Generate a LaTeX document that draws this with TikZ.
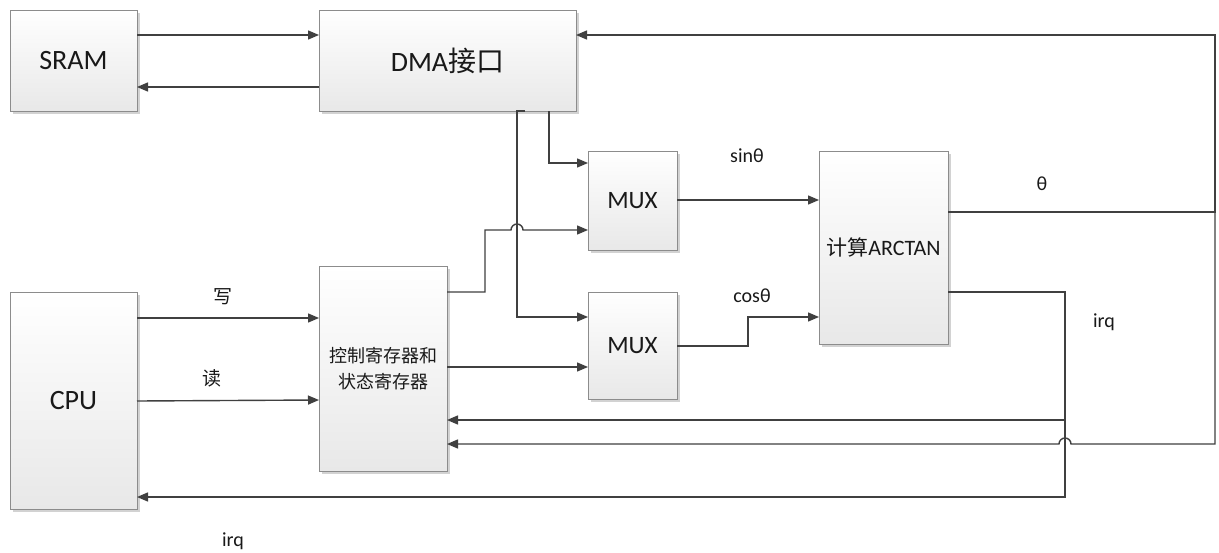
\documentclass[tikz,border=0pt]{standalone}
\usepackage{fontspec}
\setmainfont{Carlito}
\newfontfamily\cjk{Noto Sans CJK SC}
\usetikzlibrary{arrows.meta,shadows}
\begin{document}
\begin{tikzpicture}[x=1pt,y=-1pt,
  box/.style={draw=black!45, line width=0.8pt, top color=white, bottom color=black!9,
    drop shadow={shadow xshift=2.5pt,shadow yshift=-2.5pt,fill=black!35,opacity=0.5},
    inner sep=0pt, outer sep=0pt, anchor=north west, align=center, text=black!90},
  ln/.style={draw=black!75, line width=1.4pt},
  arr/.style={ln, -{Triangle[length=11pt,width=9pt]}},
  lbl/.style={font=\fontsize{20}{24}\selectfont, text=black!90},
  clbl/.style={font=\cjk\fontsize{19}{24}\selectfont, text=black!90},
  big/.style={font=\fontsize{28}{32}\selectfont}]
\useasboundingbox (0,0) rectangle (1219,552);
\fill[white] (0,0) rectangle (1219,552);

\node[box,big,minimum width=127pt,minimum height=101pt] (sram) at (10,10) {SRAM};
\node[box,big,minimum width=257pt,minimum height=101pt] (dma) at (319,10) {DMA{\cjk 接口}};
\node[box,font=\fontsize{25}{30}\selectfont,minimum width=89pt,minimum height=99pt] (mux1) at (588,151) {MUX};
\node[box,font=\fontsize{25}{30}\selectfont,minimum width=89pt,minimum height=107pt] (mux2) at (588,292) {MUX};
\node[box,font=\fontsize{22}{26}\selectfont,minimum width=129pt,minimum height=193pt] (atan) at (819,151) {{\cjk\fontsize{21}{26}\selectfont 计算}ARCTAN};
\node[box,big,minimum width=127pt,minimum height=217pt] (cpu) at (10,292) {CPU};
\node[box,font=\cjk\fontsize{18}{26}\selectfont,minimum width=128pt,minimum height=205pt] (ctrl) at (319,266) {控制寄存器和\\状态寄存器};

% SRAM <-> DMA
\draw[arr] (sram.east |- 0,35) -- (dma.west |- 0,35);
\draw[arr] (dma.west |- 0,87) -- (sram.east |- 0,87);

% DMA -> MUX
\draw[arr] (dma.south -| 525,0) -- (dma.south -| 517,0) |- (mux2.west |- 0,317);
\draw[arr] (dma.south -| 549,0) |- (mux1.west |- 0,163);

% ctrl -> MUX
\draw[arr] (ctrl.east |- 0,292) -- (485,292) -- (485,230) -- (511,230)
  arc[start angle=180,end angle=360,radius=6] -- (mux1.west |- 0,230);
\draw[arr] (ctrl.east |- 0,367) -- (mux2.west |- 0,367);

% MUX -> ARCTAN
\draw[arr] (mux1.east |- 0,200) -- (atan.west |- 0,200);
\draw[arr] (mux2.east |- 0,346) -- (748,346) -- (748,317) -- (atan.west |- 0,317);

% theta outputs
\coordinate (tr) at (1215,212);
\draw[arr] (atan.east |- tr) -- (tr) -- (1215,35) -- (dma.east |- 0,35);
\draw[arr] (tr) -- (1215,444) -- (1071,444)
  arc[start angle=0,end angle=-180,radius=6] -- (ctrl.east |- 0,444);

% irq
\coordinate (ir) at (1065,292);
\coordinate (ib) at (1065,420);
\draw[arr] (atan.east |- ir) -- (ir) -- (1065,497) -- (cpu.east |- 0,497);
\draw[arr] (ib) -- (ctrl.east |- ib);

% CPU -> ctrl
\draw[arr] (cpu.east |- 0,318) -- (ctrl.west |- 0,318);
\draw[arr] (cpu.east |- 0,401) -- (ctrl.west |- 0,400);

% labels
\node[lbl] (l1) at (747,156) {sinθ};
\node[lbl] (l2) at (752,296) {cosθ};
\node[lbl] (l3) at (1042,184) {θ};
\node[lbl] (l4) at (1104,322) {irq};
\node[lbl] (l5) at (233,541) {irq};
\node[clbl] (l6) at (223,297) {写};
\node[clbl] (l7) at (212,378) {读};
\end{tikzpicture}
\end{document}
